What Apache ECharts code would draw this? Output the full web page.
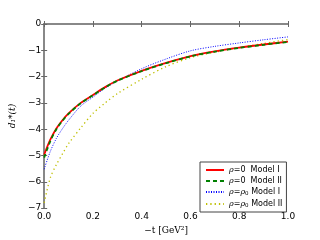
<!DOCTYPE html>
<html>
<head>
<meta charset="utf-8">
<script src="https://cdn.jsdelivr.net/npm/echarts@6/dist/echarts.min.js"></script>
<style>html,body{margin:0;padding:0;background:#fff}#c{width:320px;height:240px}</style>
</head>
<body>
<div id="c"></div>
<script>
var tVals = [0, 0.025, 0.05, 0.075, 0.1, 0.15, 0.2, 0.25, 0.3, 0.4, 0.5, 0.6, 0.7, 0.8, 0.9, 1.0];
var redVals    = [-4.97, -4.40, -3.97, -3.66, -3.40, -3.00, -2.70, -2.40, -2.15, -1.78, -1.48, -1.22, -1.04, -0.90, -0.78, -0.67];
var greenVals  = [-5.08, -4.46, -4.00, -3.68, -3.42, -3.01, -2.71, -2.41, -2.16, -1.79, -1.49, -1.23, -1.05, -0.91, -0.79, -0.68];
var blueVals   = [-5.52, -4.85, -4.35, -3.98, -3.66, -3.12, -2.78, -2.44, -2.17, -1.70, -1.33, -1.02, -0.85, -0.72, -0.60, -0.49];
var yellowVals = [-6.80, -5.85, -5.35, -4.94, -4.55, -3.95, -3.40, -3.00, -2.65, -2.10, -1.62, -1.28, -1.07, -0.90, -0.74, -0.59];
var xTicks = [0, 0.2, 0.4, 0.6, 0.8, 1.0];
var yTicks = [0, -1, -2, -3, -4, -5, -6, -7];
var legendNames = ['{r|ρ}=0  Model I', '{r|ρ}=0  Model II', '{r|ρ}={r|ρ}{s|0} Model I', '{r|ρ}={r|ρ}{s|0} Model II'];

function pairs(ys){ return tVals.map(function(t,i){ return [t, ys[i]]; }); }
var chart = echarts.init(document.getElementById('c'), null, {renderer:'canvas'});
var axisCol = '#888';
var fmtY = function(v){ return String(v).replace('-', '\u2212'); };
var opt = {
  animation:false,
  textStyle:{fontFamily:'DejaVu Sans'},
  grid:{left:40, right:32, top:24, bottom:24},
  xAxis:[{
    type:'value', min:0, max:1, interval:0.2, position:'bottom',
    axisLine:{lineStyle:{color:axisCol, width:2}},
    axisTick:{inside:true, length:3, lineStyle:{color:'#666', width:1}},
    splitLine:{show:false},
    axisLabel:{color:'#000', fontSize:9, margin:4, formatter:function(v){return v.toFixed(1);}},
    name:'\u2212t [GeV\u00b2]', nameLocation:'middle', nameGap:16,
    nameTextStyle:{color:'#000', fontSize:9, fontFamily:'DejaVu Serif'}
  },{
    type:'value', min:0, max:1, interval:0.2, position:'top',
    axisLine:{lineStyle:{color:axisCol, width:2}},
    axisTick:{inside:true, length:3, lineStyle:{color:'#666'}},
    axisLabel:{show:false}, splitLine:{show:false}
  }],
  yAxis:[{
    type:'value', min:-7, max:0, interval:1, position:'left',
    axisLine:{lineStyle:{color:axisCol, width:2}},
    axisTick:{inside:true, length:3, lineStyle:{color:'#666'}},
    splitLine:{show:false},
    axisLabel:{color:'#000', fontSize:9, margin:3, formatter:fmtY},
    name:'d\u2081*(t)', nameLocation:'middle', nameGap:24, nameRotate:90,
    nameTextStyle:{color:'#000', fontSize:9, fontFamily:'DejaVu Serif', fontStyle:'italic'}
  },{
    type:'value', min:-7, max:0, interval:1, position:'right',
    axisLine:{lineStyle:{color:axisCol, width:2}},
    axisTick:{inside:true, length:3, lineStyle:{color:'#666'}},
    axisLabel:{show:false}, splitLine:{show:false}
  }],
  legend:{
    left:200, top:162, orient:'vertical', itemGap:3, itemWidth:18, itemHeight:8,
    padding:[4,4,3,5], borderColor:'#444', borderWidth:1, backgroundColor:'#fff',
    itemStyle:{opacity:0},
    textStyle:{fontSize:8, color:'#000', rich:{r:{fontStyle:'italic', fontFamily:'DejaVu Serif', fontSize:8}, s:{fontSize:5.5, verticalAlign:'bottom', padding:[4,0,0,0]}}},
    data:legendNames
  },
  series:[
    {name:legendNames[0], type:'line', smooth:0.3, showSymbol:false, symbol:'none', data:pairs(redVals), lineStyle:{color:'#ff0000', width:1.8}, itemStyle:{color:'#ff0000'}, z:3},
    {name:legendNames[1], type:'line', smooth:0.3, showSymbol:false, symbol:'none', data:pairs(greenVals), lineStyle:{color:'#008000', width:1.8, type:[4,3]}, itemStyle:{color:'#008000'}, z:4},
    {name:legendNames[2], type:'line', smooth:0.3, showSymbol:false, symbol:'none', data:pairs(blueVals), lineStyle:{color:'#0000ff', width:1, type:[1,1.5]}, itemStyle:{color:'#0000ff'}, z:2},
    {name:legendNames[3], type:'line', smooth:0.3, showSymbol:false, symbol:'none', data:pairs(yellowVals), lineStyle:{color:'#bfbf00', width:1.3, type:[1.3,3]}, itemStyle:{color:'#bfbf00'}, z:1}
  ]
};
chart.setOption(opt);
</script>
</body>
</html>
